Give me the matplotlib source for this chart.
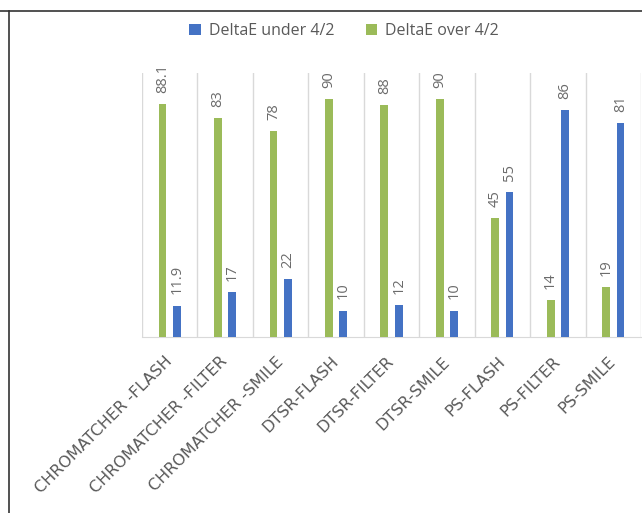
import numpy as np
import matplotlib
matplotlib.use("Agg")
import matplotlib.pyplot as plt
from matplotlib.lines import Line2D

categories = ['CHROMATCHER -FLASH', 'CHROMATCHER -FILTER', 'CHROMATCHER -SMILE',
              'DTSR-FLASH', 'DTSR-FILTER', 'DTSR-SMILE',
              'PS-FLASH', 'PS-FILTER', 'PS-SMILE']
under_vals = [11.9, 17, 22, 10, 12, 10, 55, 86, 81]
over_vals = [88.1, 83, 78, 90, 88, 90, 45, 14, 19]
under_labels = ['11.9', '17', '22', '10', '12', '10', '55', '86', '81']
over_labels = ['88.1', '83', '78', '90', '88', '90', '45', '14', '19']

blue = '#4472C4'
green = '#9BBB59'
text_col = '#595959'
grid_col = '#d9d9d9'

fig = plt.figure(figsize=(6.42, 5.13), dpi=100)
ax = fig.add_axes([142 / 642, 1 - 337 / 513, 499 / 642, 264 / 513])

x = np.arange(len(categories))
w = 0.14
off = 0.13
bars_over = ax.bar(x - off, over_vals, w, color=green, label='DeltaE over 4/2', zorder=3)
bars_under = ax.bar(x + off, under_vals, w, color=blue, label='DeltaE under 4/2', zorder=3)

# value labels, rotated like the original
for bars, labs in ((bars_over, over_labels), (bars_under, under_labels)):
    for b, lab in zip(bars, labs):
        ax.annotate(lab, (b.get_x() + b.get_width() / 2, b.get_height()),
                    xytext=(0, 8), textcoords='offset points', rotation=90,
                    ha='center', va='bottom', fontsize=10.5, color='#6b6b6b',
                    family='Open Sans', annotation_clip=False)

ax.set_xlim(-0.5, len(categories) - 0.5)
ax.set_ylim(0, 100)
ax.set_yticks([])
ax.set_xticks(x)
ax.set_xticklabels(categories, rotation=45, ha='right', va='center',
                   rotation_mode='anchor', fontsize=11.5, color=text_col,
                   family='DejaVu Sans')
ax.tick_params(axis='x', length=0, pad=16)

# category separators
ax.set_xticks(np.arange(-0.5, len(categories) + 0.5, 1), minor=True)
ax.tick_params(axis='x', which='minor', length=0)
ax.grid(axis='x', which='minor', color=grid_col, linewidth=1, zorder=0)

for s in ('top', 'left', 'right'):
    ax.spines[s].set_visible(False)
ax.spines['bottom'].set_color(grid_col)

handles = [bars_under, bars_over]
fig.legend(handles, [h.get_label() for h in handles], loc='center',
           bbox_to_anchor=(0.536, 0.94), ncol=2, frameon=False,
           handlelength=0.7, handleheight=0.7, handletextpad=0.5,
           columnspacing=2.0, prop={'family': 'Open Sans', 'size': 11.5},
           labelcolor=text_col)

# border of the original figure (cropped)
fig.add_artist(Line2D([0, 1], [1 - 11 / 513, 1 - 11 / 513], color='#333333', lw=1.2))
fig.add_artist(Line2D([9 / 642, 9 / 642], [0, 1 - 11 / 513], color='#333333', lw=1.2))

fig.savefig('out.png', dpi=100)
